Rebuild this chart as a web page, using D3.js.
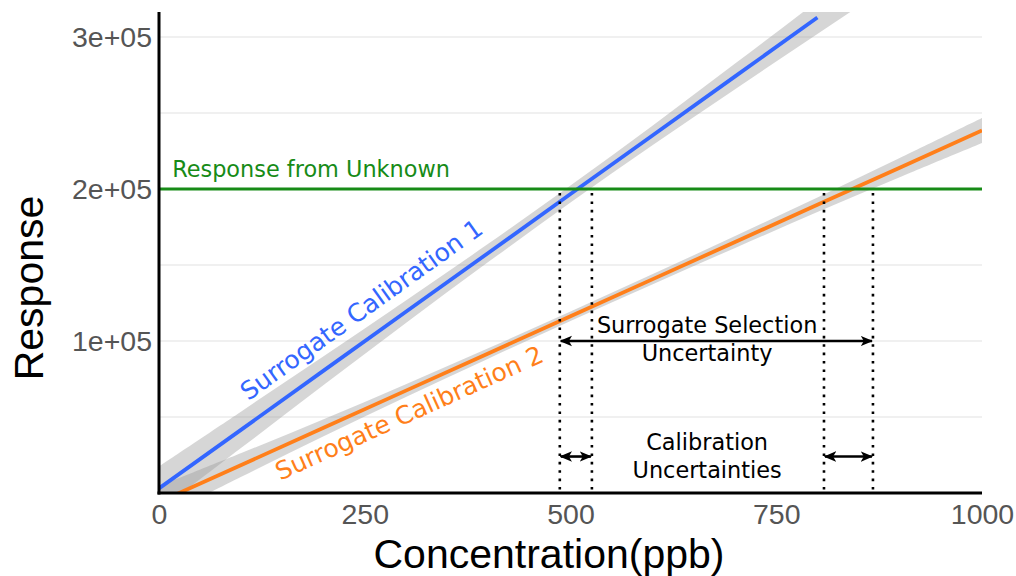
<!DOCTYPE html>
<html>
<head>
<meta charset="utf-8">
<script src="https://cdn.jsdelivr.net/npm/d3@7"></script>
<style>
  html, body { margin: 0; padding: 0; background: #ffffff; }
  svg { display: block; }
</style>
</head>
<body>
<svg id="chart" width="1016" height="576"></svg>
<script>
// ---------- data ----------
const xTicks = [0, 250, 500, 750, 1000];
const xTickLabels = ["0", "250", "500", "750", "1000"];
const yTicks = [100000, 200000, 300000];
const yTickLabels = ["1e+05", "2e+05", "3e+05"];
const yGrid = [50000, 100000, 150000, 200000, 250000, 300000];

// concentration grid for the fitted lines and their confidence bands
const concGrid = [0, 100, 200, 300, 400, 500, 600, 700, 800, 900, 1000];
// Surrogate Calibration 1 (blue): fitted response and band half-width
const blueFit  = [3000, 41700, 80500, 119200, 157900, 196700, 235400, 274100, 312800, 351500, 390200];
const blueHalf = [14500, 12000, 9500, 7400, 6000, 5600, 6400, 8400, 10800, 13400, 16000];
const blueLineEnd = 800;
// Surrogate Calibration 2 (orange)
const orangeFit  = [-6000, 18450, 42900, 67350, 91800, 116250, 140700, 165150, 189600, 214050, 238500];
const orangeHalf = [10500, 7800, 5600, 4200, 3400, 3100, 3300, 3900, 4800, 6300, 8200];

const unknownResponse = 200000;
// intersection bounds (concentration) marked by dotted lines
const dottedX = [487, 526, 808, 867.5];
// arrows: [x1, x2, y]
const selectionArrow = [487, 867.5, 100000];
const calibArrows = [[487, 526, 24000], [808, 867.5, 24000]];

// text annotations: [label, conc, response]
const unknownLabel = ["Response from Unknown", 16, 207900];
const selectionText = [["Surrogate Selection", 666, 105300], ["Uncertainty", 666, 87000]];
const calibText = [["Calibration", 666, 28300], ["Uncertainties", 666, 9900]];
const blueLabel = ["Surrogate Calibration 1", 246, 120500];
const orangeLabel = ["Surrogate Calibration 2", 304, 52600];

// ---------- layout ----------
const svg = d3.select("#chart");
const W = 1016, H = 576;
const pLeft = 159, pRight = 982, pTop = 12, pBottom = 493;

svg.append("rect").attr("width", W).attr("height", H).attr("fill", "#ffffff");

const x = d3.scaleLinear().domain([0, 1000]).range([pLeft, pRight]);
const y = d3.scaleLinear().domain([0, 300000]).range([pBottom, 37]);

const BLUE = "#3366ff", ORANGE = "#ff7f1a", GREEN = "#178b17";
const annoFont = "'DejaVu Sans', Verdana, sans-serif";
const axisFont = "'Liberation Sans', Arial, sans-serif";

const defs = svg.append("defs");
defs.append("clipPath").attr("id", "panel")
  .append("rect").attr("x", pLeft).attr("y", pTop)
  .attr("width", pRight - pLeft).attr("height", pBottom - pTop);

defs.append("marker").attr("id", "ah").attr("viewBox", "0 0 10 10")
  .attr("refX", 9).attr("refY", 5).attr("markerWidth", 4.8).attr("markerHeight", 4.8)
  .attr("markerUnits", "strokeWidth").attr("orient", "auto-start-reverse")
  .append("path").attr("d", "M0,0.8 L10,5 L0,9.2 L2.5,5 Z").attr("fill", "#000");

// grid
svg.append("g").selectAll("line").data(yGrid).join("line")
  .attr("x1", pLeft).attr("x2", pRight)
  .attr("y1", d => y(d)).attr("y2", d => y(d))
  .attr("stroke", "#ebebeb").attr("stroke-width", 1.6);

const panel = svg.append("g").attr("clip-path", "url(#panel)");

function bandData(fit, half) {
  return concGrid.map((c, i) => ({ c, lo: fit[i] - half[i], hi: fit[i] + half[i], m: fit[i] }));
}
const area = d3.area().x(d => x(d.c)).y0(d => y(d.lo)).y1(d => y(d.hi)).curve(d3.curveCatmullRom);
const blueBand = bandData(blueFit, blueHalf);
const orangeBand = bandData(orangeFit, orangeHalf);

panel.append("path").datum(blueBand).attr("d", area).attr("fill", "#999999").attr("fill-opacity", 0.4);
panel.append("path").datum(orangeBand).attr("d", area).attr("fill", "#999999").attr("fill-opacity", 0.4);

// unknown response line
svg.append("line").attr("x1", pLeft).attr("x2", pRight)
  .attr("y1", y(unknownResponse)).attr("y2", y(unknownResponse))
  .attr("stroke", GREEN).attr("stroke-width", 3);

const line = d3.line().x(d => x(d.c)).y(d => y(d.m));
panel.append("path").datum(blueBand.filter(d => d.c <= blueLineEnd))
  .attr("d", line).attr("fill", "none").attr("stroke", BLUE).attr("stroke-width", 3.8);
panel.append("path").datum(orangeBand)
  .attr("d", line).attr("fill", "none").attr("stroke", ORANGE).attr("stroke-width", 3.8);

// dotted lines
svg.append("g").selectAll("line").data(dottedX).join("line")
  .attr("x1", d => x(d)).attr("x2", d => x(d))
  .attr("y1", y(unknownResponse) + 4).attr("y2", pBottom)
  .attr("stroke", "#000").attr("stroke-width", 2.6)
  .attr("stroke-dasharray", "2.6,5.8");

// arrows
function arrow(a) {
  svg.append("line").attr("x1", x(a[0]) + 1).attr("x2", x(a[1]) - 1)
    .attr("y1", y(a[2])).attr("y2", y(a[2]))
    .attr("stroke", "#000").attr("stroke-width", 2.6)
    .attr("marker-start", "url(#ah)").attr("marker-end", "url(#ah)");
}
arrow(selectionArrow);
calibArrows.forEach(arrow);

// annotation texts
svg.append("text").attr("x", x(unknownLabel[1])).attr("y", y(unknownLabel[2]))
  .attr("font-family", annoFont).attr("font-size", 22.4).attr("fill", GREEN)
  .text(unknownLabel[0]);

svg.append("g").selectAll("text").data(selectionText.concat(calibText)).join("text")
  .attr("x", d => x(d[1])).attr("y", d => y(d[2]))
  .attr("text-anchor", "middle")
  .attr("font-family", annoFont).attr("font-size", 22.4).attr("fill", "#000")
  .text(d => d[0]);

function slopeAngle(fit) {
  const dx = x(concGrid[8]) - x(concGrid[2]);
  const dy = y(fit[8]) - y(fit[2]);
  return Math.atan2(dy, dx) * 180 / Math.PI;
}
[[blueLabel, BLUE, blueFit], [orangeLabel, ORANGE, orangeFit]].forEach(([lab, col, fit]) => {
  const px = x(lab[1]), py = y(lab[2]);
  svg.append("text").attr("x", px).attr("y", py)
    .attr("transform", `rotate(${slopeAngle(fit)},${px},${py})`)
    .attr("text-anchor", "middle").attr("dominant-baseline", "central")
    .attr("font-family", annoFont).attr("font-size", 25).attr("fill", col)
    .text(lab[0]);
});

// axes
const xAxis = d3.axisBottom(x).tickValues(xTicks).tickSize(0).tickPadding(11)
  .tickFormat((d, i) => xTickLabels[i]);
const gx = svg.append("g").attr("transform", `translate(0,${pBottom})`).call(xAxis);
gx.select(".domain").remove();
gx.selectAll("text").attr("font-family", axisFont).attr("font-size", 28.5).attr("fill", "#555555");

const yAxis = d3.axisLeft(y).tickValues(yTicks).tickSize(0).tickPadding(7)
  .tickFormat((d, i) => yTickLabels[i]);
const gy = svg.append("g").attr("transform", `translate(${pLeft},0)`).call(yAxis);
gy.select(".domain").remove();
gy.selectAll("text").attr("font-family", axisFont).attr("font-size", 28.5).attr("fill", "#555555");

// axis lines
svg.append("line").attr("x1", pLeft).attr("x2", pLeft).attr("y1", pTop).attr("y2", pBottom + 1.5)
  .attr("stroke", "#000").attr("stroke-width", 3);
svg.append("line").attr("x1", pLeft - 1.5).attr("x2", pRight).attr("y1", pBottom).attr("y2", pBottom)
  .attr("stroke", "#000").attr("stroke-width", 3);

// axis titles
svg.append("text").attr("x", 549).attr("y", 568).attr("text-anchor", "middle")
  .attr("font-family", axisFont).attr("font-size", 41).attr("fill", "#000")
  .text("Concentration(ppb)");
svg.append("text").attr("transform", "translate(43,288) rotate(-90)").attr("text-anchor", "middle")
  .attr("font-family", axisFont).attr("font-size", 41).attr("fill", "#000")
  .text("Response");
</script>
</body>
</html>
